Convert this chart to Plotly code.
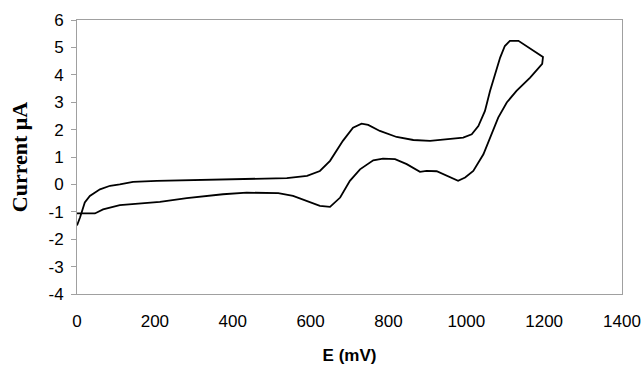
import plotly.graph_objects as go

# Forward scan (0 -> 1200 mV)
e_fwd = [0, 8, 20, 33, 59, 85, 110, 144, 205, 282, 334, 450, 539, 591, 624, 650, 683, 709,
         731, 748, 778, 821, 864, 907, 950, 992, 1014, 1031, 1048, 1061, 1074, 1087, 1099,
         1112, 1134, 1164, 1189, 1197]
i_fwd = [-1.5, -1.2, -0.66, -0.42, -0.18, -0.05, 0.0, 0.09, 0.13, 0.15, 0.19, 0.21, 0.23,
         0.31, 0.49, 0.86, 1.59, 2.07, 2.22, 2.17, 1.95, 1.73, 1.62, 1.59, 1.65, 1.71, 1.83,
         2.13, 2.68, 3.41, 4.02, 4.63, 5.05, 5.24, 5.24, 4.97, 4.75, 4.65]

# Reverse scan (1200 -> 0 mV)
e_rev = [1195, 1164, 1129, 1104, 1082, 1061, 1044, 1018, 997, 979, 958, 940, 924, 898, 881,
         847, 817, 786, 761, 727, 701, 676, 650, 624, 555, 517, 436, 375, 282, 213, 154, 110,
         67, 46, 12, 0]
i_rev = [4.4, 3.9, 3.41, 2.99, 2.44, 1.71, 1.1, 0.49, 0.25, 0.13, 0.27, 0.40, 0.48, 0.49,
         0.46, 0.74, 0.92, 0.94, 0.88, 0.55, 0.13, -0.48, -0.82, -0.78, -0.42, -0.32, -0.3,
         -0.36, -0.5, -0.64, -0.70, -0.76, -0.91, -1.06, -1.06, -1.06]

x_ticks = [0, 200, 400, 600, 800, 1000, 1200, 1400]
y_ticks = [-4, -3, -2, -1, 0, 1, 2, 3, 4, 5, 6]

fig = go.Figure()
fig.add_trace(go.Scatter(
    x=e_fwd + e_rev, y=i_fwd + i_rev, mode="lines",
    line=dict(color="black", width=1.8), showlegend=False, hoverinfo="skip"))

fig.update_layout(
    width=644, height=365,
    margin=dict(l=77, r=22, t=20, b=71),
    paper_bgcolor="white", plot_bgcolor="white",
    font=dict(family="Liberation Sans, Arial, sans-serif", size=17, color="black"),
    xaxis=dict(
        range=[0, 1400], tickvals=x_ticks, ticktext=[str(v) for v in x_ticks],
        showgrid=False, zeroline=False, showline=True, linecolor="#a0a0a0", linewidth=1,
        mirror=True, ticks="outside", ticklen=12, tickcolor="rgba(0,0,0,0)",
        tickfont=dict(size=17), automargin=False,
        title=dict(text="<b>E (mV)</b>", font=dict(size=17,
                   family="Liberation Sans, Arial, sans-serif"), standoff=19),
    ),
    yaxis=dict(
        range=[-4, 6], tickvals=y_ticks, ticktext=[str(v) for v in y_ticks],
        showgrid=False, zeroline=False, showline=True, linecolor="#a0a0a0", linewidth=1,
        mirror=True, ticks="outside", ticklen=5, tickcolor="#a0a0a0",
        tickfont=dict(size=17), ticklabelstandoff=4, automargin=False,
        title=dict(text="<b>Current μA</b>", font=dict(size=22,
                   family="Liberation Serif, Times New Roman, serif"), standoff=14),
    ),
)

fig.write_html("out.html")
